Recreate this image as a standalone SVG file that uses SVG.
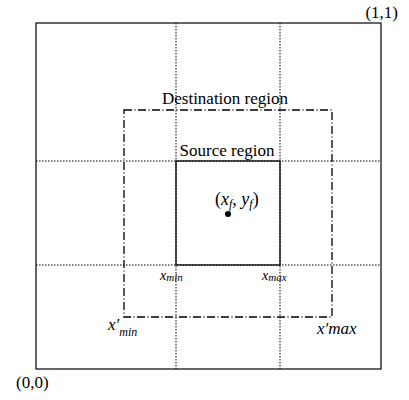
<svg xmlns="http://www.w3.org/2000/svg" width="409" height="400" viewBox="0 0 409 400">
<style>
text{font-family:"Liberation Serif","Times New Roman",serif;fill:#000}
.lbl{font-size:17px}
.it{font-style:italic}
.dot{stroke:#000;stroke-width:1;stroke-dasharray:1.5 1.5;fill:none}
.dd{stroke:#000;stroke-width:1.3;stroke-dasharray:8 2.5 1 2.5;fill:none}
</style>
<rect width="409" height="400" fill="#fff"/>
<g id="connectors">
<line class="dot" x1="176" y1="23" x2="176" y2="369"/>
<line class="dot" x1="280" y1="23" x2="280" y2="369"/>
<line class="dot" x1="36" y1="161" x2="381" y2="161"/>
<line class="dot" x1="36" y1="265" x2="381" y2="265"/>
</g>
<g id="outer">
<rect x="36" y="23" width="345" height="346" fill="none" stroke="#000" stroke-width="1.2"/>
<text class="lbl" x="398" y="18" text-anchor="end">(1,1)</text>
<text class="lbl" x="16" y="388">(0,0)</text>
</g>
<g id="destination">
<rect class="dd" x="124" y="110" width="208" height="207"/>
<text class="lbl" x="225" y="104" text-anchor="middle">Destination region</text>
<text class="it" font-size="17" x="108" y="330">x′<tspan font-size="12" dy="6">min</tspan></text>
<text class="it" font-size="17" x="317" y="334">x′max</text>
</g>
<g id="source">
<rect x="176" y="161" width="104" height="104" fill="none" stroke="#000" stroke-width="1.3"/>
<text class="lbl" x="227" y="156" text-anchor="middle">Source region</text>
<text class="it" font-size="14" x="160" y="280">x<tspan font-size="11" dy="1">min</tspan></text>
<text class="it" font-size="14" x="262" y="280">x<tspan font-size="11" dy="1">max</tspan></text>
</g>
<g id="point">
<circle cx="228" cy="214" r="3" fill="#000"/>
<text font-size="18" x="215" y="205">(<tspan class="it">x</tspan><tspan class="it" font-size="12" dy="3">f</tspan><tspan dy="-3">, </tspan><tspan class="it">y</tspan><tspan class="it" font-size="12" dy="3">f</tspan><tspan dy="-3">)</tspan></text>
</g>
</svg>
